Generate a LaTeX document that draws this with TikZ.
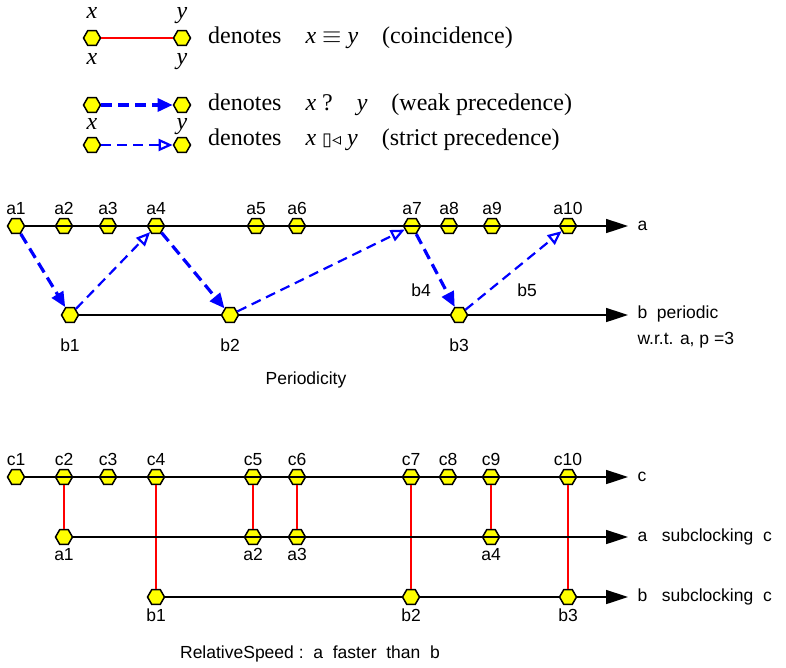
\documentclass[tikz,border=0pt]{standalone}
\usepackage{fontspec}
\setmainfont{Liberation Serif}
\setsansfont{Liberation Sans}
\newfontfamily\symfont{DejaVu Sans}
\usetikzlibrary{arrows.meta,shapes.geometric,positioning}
\definecolor{tickfill}{HTML}{FFFF00}
\definecolor{prec}{HTML}{0000FF}

\tikzset{
  instant/.style={regular polygon, regular polygon sides=6,
    draw=black, fill=tickfill, line width=1.5pt, minimum size=17pt, inner sep=0pt},
  clockline/.style={line width=1.6pt, -{Triangle[length=22pt,width=14pt]}},
  coinc/.style={red, line width=1.8pt},
  weak/.style={prec, line width=3.2pt, dash pattern=on 11pt off 6pt,
    -{Triangle[length=15pt,width=13pt]}},
  strict/.style={prec, line width=2.2pt, dash pattern=on 10pt off 6pt,
    -{Triangle[open,length=14pt,width=12pt]}},
  lbl/.style={font=\sffamily\fontsize{17.5}{20}\selectfont},
  legtxt/.style={font=\fontsize{24}{26}\selectfont, anchor=west, inner sep=0pt},
  legvar/.style={font=\fontsize{24}{26}\selectfont\itshape, inner sep=1pt,
    text height=11pt, text depth=5pt},
}

\begin{document}
\begin{tikzpicture}[x=1pt, y=-1pt]
\useasboundingbox (0,0) rectangle (786,667);

% legend
\node[instant, label={[legvar, label distance=5pt]above:x}, label={[legvar, label distance=6pt]below:x}] (cx) at (92,38) {};
\node[instant, label={[legvar, label distance=5pt]above:y}, label={[legvar, label distance=6pt]below:y}] (cy) at (182,38) {};
\draw[coinc] (cx) -- (cy);
\node[legtxt] (tcoinc) at (208,38) {denotes\quad \textit{x} $\equiv$ \textit{y}\quad (coincidence)};

\node[instant, label={[legvar, label distance=4pt]below:x}] (wx) at (92,105) {};
\node[instant, label={[legvar, label distance=4pt]below:y}] (wy) at (182,105) {};
\draw[weak] (wx) -- (wy);
\node[legtxt] (tweak) at (208,105) {denotes\quad \textit{x} ?\quad \textit{y}\quad (weak precedence)};

\node[instant] (sx) at (92,145) {};
\node[instant] (sy) at (182,145) {};
\draw[strict] (sx) -- (sy);
\node[legtxt] (tstrict) at (208,140) {denotes\quad \textit{x} {\symfont\fontsize{18}{18}\selectfont ▯◃} \textit{y}\quad (strict precedence)};

% periodicity
\foreach \i/\x in {1/16,2/64,3/108,4/156,5/256,6/297,7/412,8/449,9/492,10/568}
  \node[instant, label={[lbl, label distance=0pt]above:a\i}] (pa\i) at (\x,226) {};
\foreach \i/\x in {1/70,2/230,3/459}
  \node[instant, label={[lbl, label distance=12pt]below:b\i}] (pb\i) at (\x,315) {};
\coordinate (paend) at (628,226);
\coordinate (pbend) at (628,315);
\draw[clockline] (pa1) \foreach \i in {2,...,10} { -- (pa\i) } -- (paend);
\draw[clockline] (pb1) -- (pb2) -- (pb3) -- (pbend);
\node[lbl, anchor=west] (pa) at (634,226) {a};
\node[lbl, anchor=west] (pb) at (634,314) {b\ \ periodic};
\node[lbl, anchor=west] (pp) at (634,340) {w.r.t. a,\ p =3};

\draw[weak] (pa1) -- (pb1);
\draw[strict] (pb1) -- (pa4);
\draw[weak] (pa4) -- (pb2);
\draw[strict] (pb2) -- (pa7);
\draw[weak] (pa7) -- (pb3);
\draw[strict] (pb3) -- (pa10);
\node[lbl] (pb4) at (421,290) {b4};
\node[lbl] (pb5) at (527,290) {b5};
\node[lbl] (ptitle) at (306,380) {Periodicity};

% relative speed
\coordinate (rcend) at (628,477);
\coordinate (raend) at (628,537);
\coordinate (rbend) at (628,597);
\foreach \i/\x in {1/16,2/64,3/108,4/156,5/253,6/297,7/411,8/448,9/491,10/568}
  \node[instant, label={[lbl, label distance=0pt]above:c\i}] (rc\i) at (\x,477) {};
\foreach \i/\x in {1/64,2/253,3/297,4/491}
  \node[instant, label={[lbl, label distance=0pt]below:a\i}] (ra\i) at (\x,537) {};
\foreach \i/\x in {1/156,2/411,3/568}
  \node[instant, label={[lbl, label distance=0pt]below:b\i}] (rb\i) at (\x,597) {};
\foreach \c/\t in {2/ra1,4/rb1,5/ra2,6/ra3,7/rb2,9/ra4,10/rb3}
  \draw[coinc] (rc\c) -- (\t);
\draw[clockline] (rc1) \foreach \i in {2,...,10} { -- (rc\i) } -- (rcend);
\draw[clockline] (ra1) \foreach \i in {2,...,4} { -- (ra\i) } -- (raend);
\draw[clockline] (rb1) -- (rb2) -- (rb3) -- (rbend);
\node[lbl, anchor=west] (rc) at (634,477) {c};
\node[lbl, anchor=west] (ra) at (634,537) {a\ \ \ subclocking\ \ c};
\node[lbl, anchor=west] (rb) at (634,597) {b\ \ \ subclocking\ \ c};
\node[lbl] (rtitle) at (310,654) {RelativeSpeed :\ \ a\ \ faster\ \ than\ \ b};
\end{tikzpicture}
\end{document}
